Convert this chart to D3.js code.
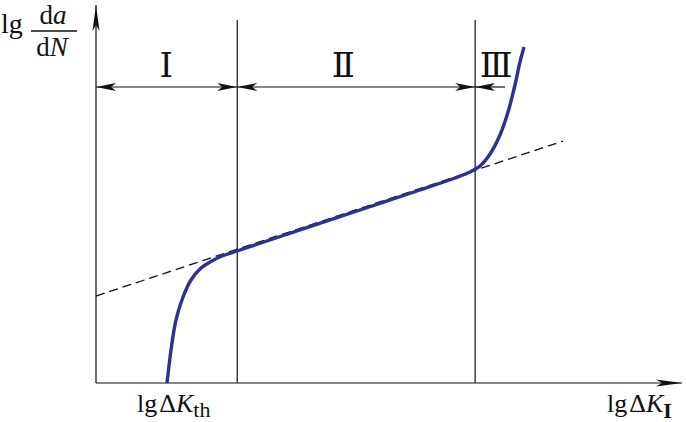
<!DOCTYPE html>
<meta charset="utf-8">
<style>
  body { margin: 0; background: #fff; }
  text { font-family: "Liberation Serif", "DejaVu Serif", serif; fill: #111; }
</style>
<svg width="686" height="422"></svg>
<script src="https://cdn.jsdelivr.net/npm/d3@7"></script>
<script>
// abstract units: x = lg dK, y = lg da/dN
var curveX = [1.212, 1.280, 1.365, 1.485, 1.621, 1.775, 1.945, 2.150, 2.406, 3.481, 4.505, 5.529, 6.126, 6.382, 6.553, 6.724, 6.894, 7.031, 7.150, 7.235, 7.304];
var curveY = [0, 0.873, 1.667, 2.275, 2.725, 3.016, 3.201, 3.360, 3.492, 4.048, 4.577, 5.106, 5.423, 5.582, 5.741, 6.058, 6.561, 7.169, 7.884, 8.492, 8.889];
var dashX = [0, 7.97];
var dashY = [2.30, 6.40];
var bounds = [0, 2.41, 6.47];       // region boundaries
var regions = ["Ⅰ", "Ⅱ", "Ⅲ"];
var regionEnds = [2.41, 6.47, 6.98];
var regionLabelX = [1.20, 4.22, 6.83];

var svg = d3.select("svg");
var x = d3.scaleLinear().domain([0, 10]).range([96, 682]);
var y = d3.scaleLinear().domain([0, 10]).range([383, 5]);

var defs = svg.append("defs");
defs.append("marker").attr("id", "ah")
    .attr("viewBox", "0 -5 20 10").attr("refX", 20).attr("refY", 0)
    .attr("markerWidth", 20).attr("markerHeight", 10).attr("markerUnits", "userSpaceOnUse")
    .attr("orient", "auto-start-reverse")
  .append("path").attr("d", "M0,-4L20,0L0,4L5,0Z").attr("fill", "#111");
defs.append("marker").attr("id", "ax")
    .attr("viewBox", "0 -4 26 8").attr("refX", 26).attr("refY", 0)
    .attr("markerWidth", 26).attr("markerHeight", 8).attr("markerUnits", "userSpaceOnUse")
    .attr("orient", "auto")
  .append("path").attr("d", "M0,-3.5L26,0L0,3.5L6,0Z").attr("fill", "#111");

// axes
svg.append("line").attr("x1", x(0)).attr("x2", x(0)).attr("y1", y(0)).attr("y2", y(10))
    .attr("stroke", "#111").attr("stroke-width", 1.2).attr("marker-end", "url(#ax)");
svg.append("line").attr("x1", x(0)).attr("x2", x(10)).attr("y1", y(0)).attr("y2", y(0))
    .attr("stroke", "#111").attr("stroke-width", 1.2).attr("marker-end", "url(#ax)");

// region boundaries
svg.selectAll("line.bound").data(bounds.slice(1)).enter().append("line")
    .attr("class", "bound")
    .attr("x1", d => x(d)).attr("x2", d => x(d))
    .attr("y1", y(0)).attr("y2", 20)
    .attr("stroke", "#111").attr("stroke-width", 1.2);

// region arrows
var ay = 87;
bounds.forEach(function(b, i) {
  var e = regionEnds[i];
  var ln = svg.append("line").attr("y1", ay).attr("y2", ay)
      .attr("stroke", "#111").attr("stroke-width", 1.2);
  if (i < 2) {
    ln.attr("x1", x(b)).attr("x2", x(e))
      .attr("marker-start", "url(#ah)").attr("marker-end", "url(#ah)");
  } else {
    ln.attr("x1", x(e)).attr("x2", x(b)).attr("marker-end", "url(#ah)");
  }
  svg.append("text").attr("x", x(regionLabelX[i])).attr("y", 77)
      .attr("text-anchor", "middle").attr("font-size", 34).text(regions[i]);
});

// dashed Paris line
svg.append("line")
    .attr("x1", x(dashX[0])).attr("y1", y(dashY[0]))
    .attr("x2", x(dashX[1])).attr("y2", y(dashY[1]))
    .attr("stroke", "#111").attr("stroke-width", 1.3).attr("stroke-dasharray", "9,5");

// crack growth curve
var pts = curveX.map((d, i) => [d, curveY[i]]);
svg.append("path").datum(pts)
    .attr("d", d3.line().x(d => x(d[0])).y(d => y(d[1])).curve(d3.curveCatmullRom.alpha(0.5)))
    .attr("fill", "none").attr("stroke", "#2e3192").attr("stroke-width", 3.4);

// y label
svg.append("text").attr("x", 1).attr("y", 33).attr("font-size", 28).text("lg");
svg.append("text").attr("x", 53).attr("y", 24).attr("font-size", 27).attr("text-anchor", "middle")
    .call(t => { t.append("tspan").text("d"); t.append("tspan").attr("font-style", "italic").text("a"); });
svg.append("line").attr("x1", 31).attr("x2", 77).attr("y1", 31).attr("y2", 31)
    .attr("stroke", "#111").attr("stroke-width", 1.5);
svg.append("text").attr("x", 52).attr("y", 56).attr("font-size", 27).attr("text-anchor", "middle")
    .call(t => { t.append("tspan").text("d"); t.append("tspan").attr("font-style", "italic").text("N"); });

// x labels
svg.append("text").attr("x", 137).attr("y", 412).attr("font-size", 26)
    .call(t => {
      t.append("tspan").text("lg");
      t.append("tspan").attr("dx", 2).text("Δ");
      t.append("tspan").attr("font-style", "italic").text("K");
      t.append("tspan").attr("dy", 5).attr("font-size", 22).text("th");
    });
svg.append("text").attr("x", 607).attr("y", 412).attr("font-size", 26)
    .call(t => {
      t.append("tspan").text("lg");
      t.append("tspan").attr("dx", 2).text("Δ");
      t.append("tspan").attr("font-style", "italic").text("K");
      t.append("tspan").attr("dy", 6).attr("font-size", 22).attr("font-weight", "bold").text("I");
    });
</script>
